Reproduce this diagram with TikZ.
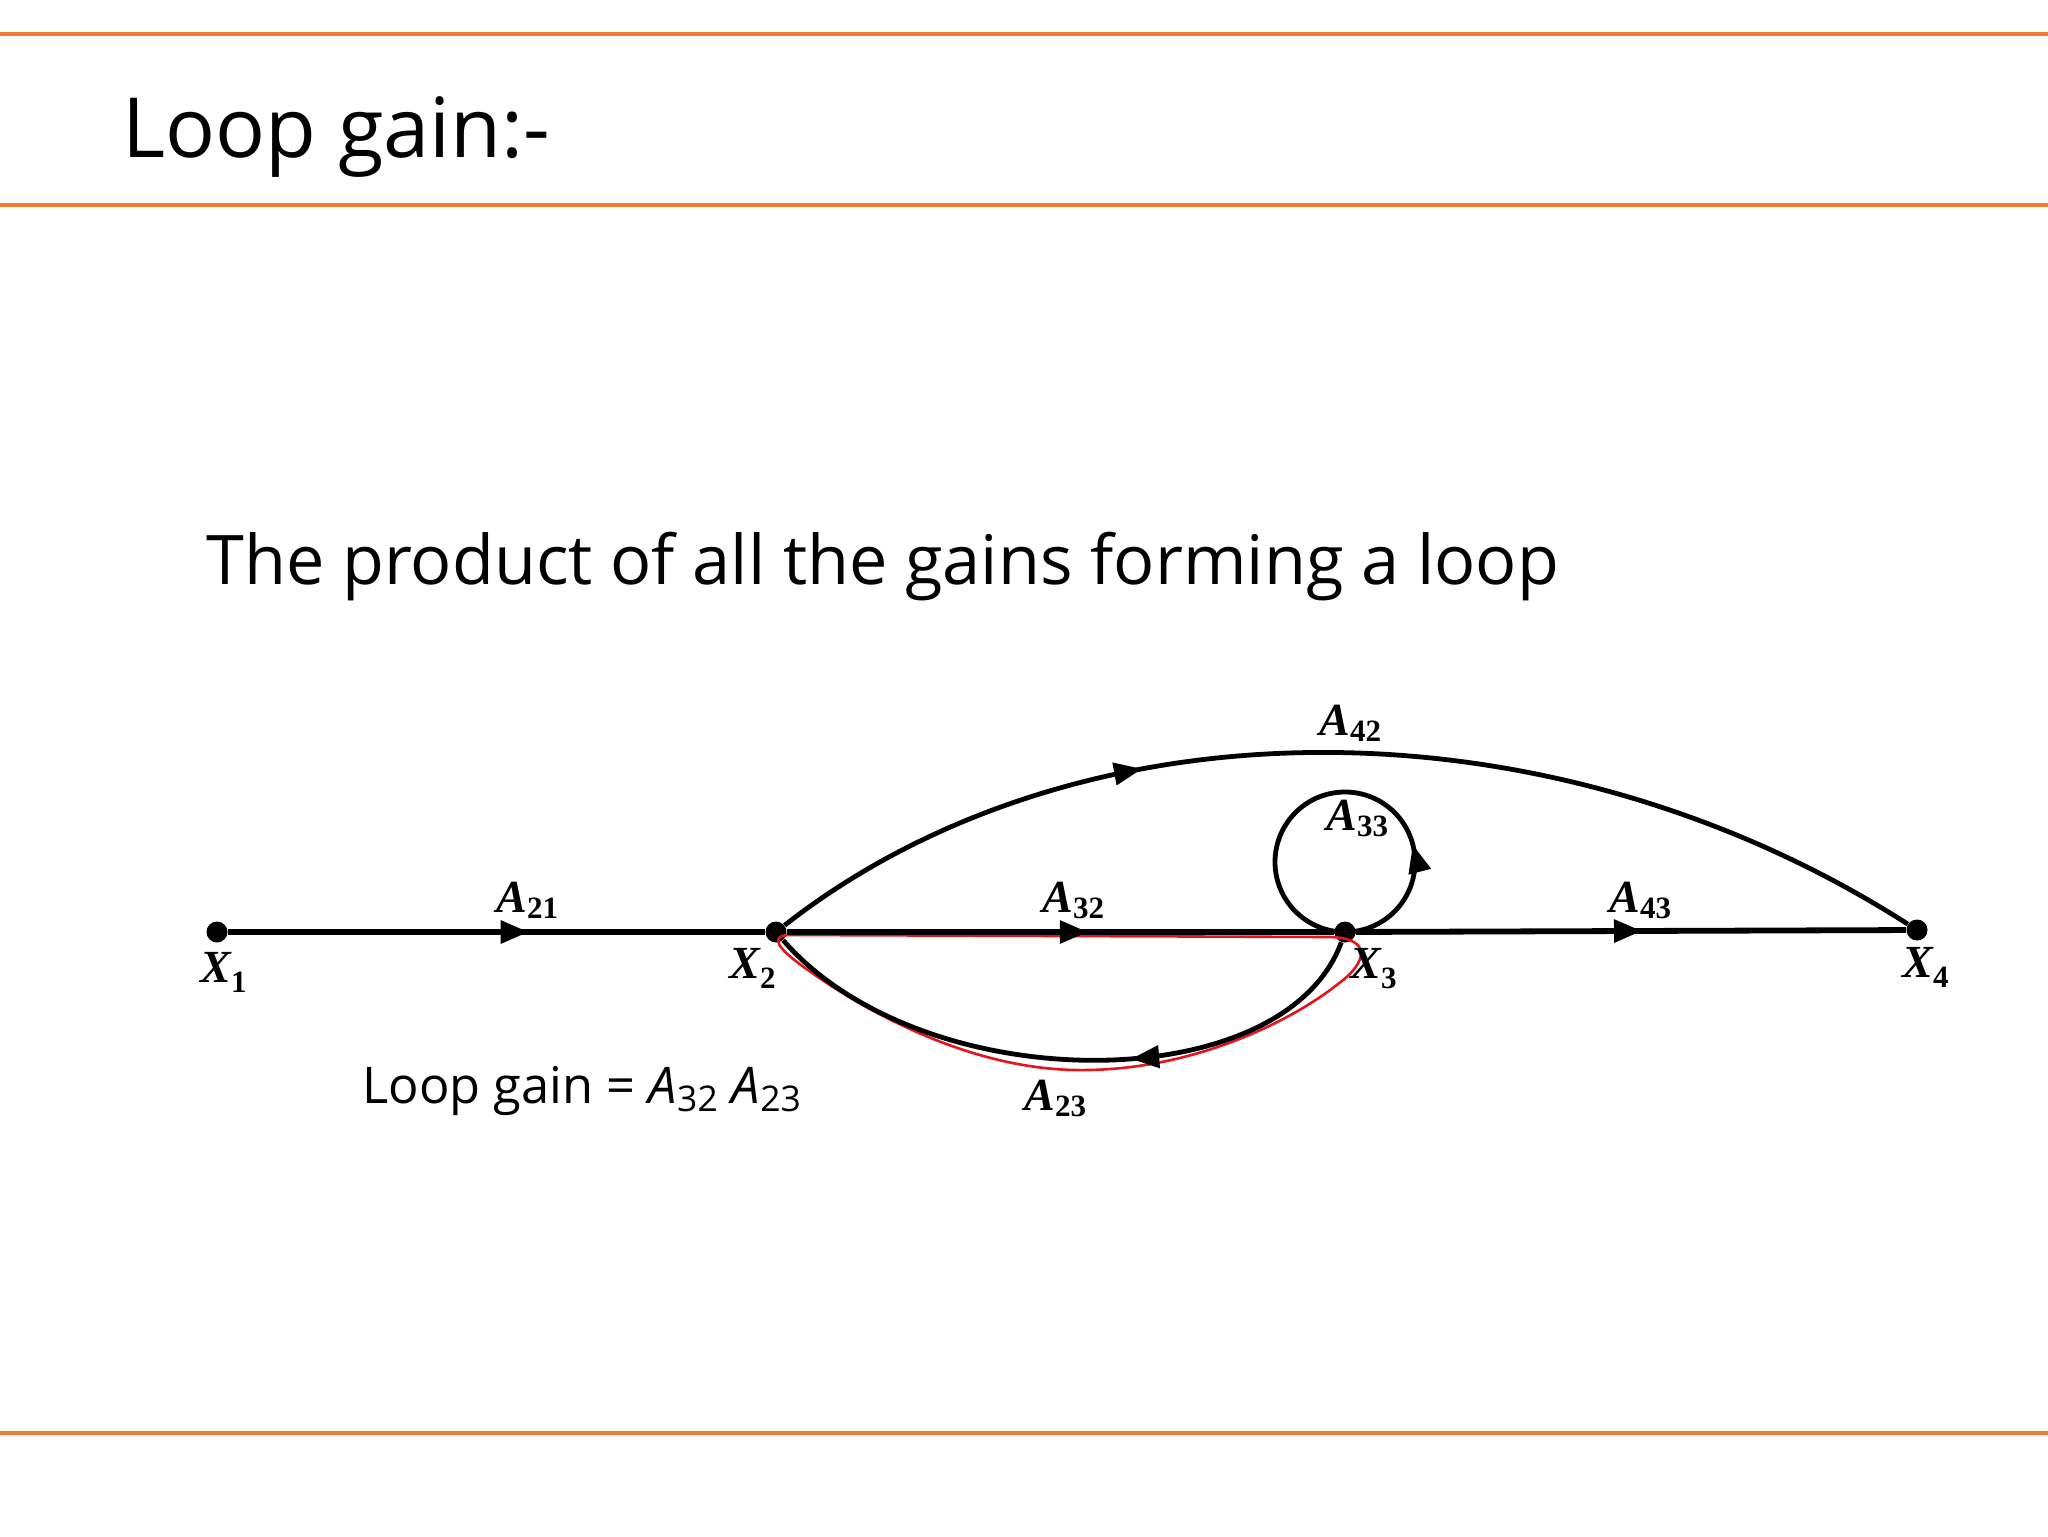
\documentclass[tikz,border=0pt]{standalone}
\usepackage{fontspec}
\setmainfont{Open Sans}
\newfontfamily\labfont{Liberation Serif}
\usetikzlibrary{arrows.meta,decorations.markings}
\definecolor{slideorange}{HTML}{ED7D31}
\definecolor{loopred}{HTML}{E3141B}
\newcommand{\glab}[3]{{\labfont\fontsize{23}{23}\selectfont\bfseries\itshape #1}\raisebox{#3}{\labfont\fontsize{15.5}{15.5}\selectfont\bfseries #2}}
\tikzset{
  rule/.style={draw=slideorange,line width=2pt},
  edge/.style={line width=2.9pt},
  curveedge/.style={line width=2.4pt},
  dot/.style={circle,fill=black,inner sep=0pt,minimum size=10.5pt},
  glabel/.style={anchor=base west,inner sep=0pt},
  midarrow/.style={postaction={decorate},decoration={markings,mark=at position #1 with {\arrow{Triangle[length=14pt,width=11pt]}}}},
  redloop/.style={draw=loopred,line width=1.3pt},
  txt/.style={anchor=base west,inner sep=0pt}
}
\begin{document}
\begin{tikzpicture}[x=0.5pt,y=-0.5pt]
\useasboundingbox (0,0) rectangle (2048,1536);
% slide rules
\draw[rule] (0,34) -- (2048,34);
\draw[rule] (0,205) -- (2048,205);
\draw[rule] (0,1433) -- (2048,1433);
% texts
\node[txt,font=\fontsize{41.5}{41.5}\selectfont] (title) at (122,157) {Loop gain:-};
\node[txt,font=\fontsize{34.2}{34.2}\selectfont] (sub) at (206,584) {The product of all the gains forming a loop};
\node[txt,font=\fontsize{25.3}{25.3}\selectfont] (lg) at (362,1103) {Loop gain = \textit{A}\textsubscript{32} \textit{A}\textsubscript{23}};
% nodes
\node[dot] (X1) at (217,932) {};
\node[dot] (X2) at (776,932) {};
\node[dot] (X3) at (1345,932) {};
\node[dot] (X4) at (1917,930) {};
% red loop
\draw[redloop] (790,935) -- (1330,937) .. controls (1372,938) and (1368,962) .. (1338,984)
  .. controls (1290,1022) and (1190,1072) .. (1075,1070)
  .. controls (960,1068) and (850,1002) .. (797,962)
  .. controls (772,943) and (774,935) .. (790,935) -- cycle;
% edges
\draw[edge,midarrow=0.56] (X1) -- (X2);
\draw[edge,midarrow=0.55] (X2) -- (X3);
\draw[edge,midarrow=0.52] (X3) -- (X4);
\draw[curveedge,midarrow=0.33] (X2) .. controls (1079,695) and (1550,695) .. (X4);
\draw[curveedge,midarrow=0.40] (X3) .. controls (1284,1100) and (922,1100) .. (X2);
\draw[curveedge,midarrow=0.29] (X3.center) arc[start angle=90,end angle=-270,radius=70];
% labels
\node[glabel] (lA21) at (496,912) {\glab{A}{21}{-3pt}};
\node[glabel] (lA32) at (1042,912) {\glab{A}{32}{-3pt}};
\node[glabel] (lA43) at (1609,912) {\glab{A}{43}{-3pt}};
\node[glabel] (lA42) at (1319,735) {\glab{A}{42}{-3pt}};
\node[glabel] (lA33) at (1326,830) {\glab{A}{33}{-3pt}};
\node[glabel] (lA23) at (1024,1110) {\glab{A}{23}{-3pt}};
\node[glabel] (lX1) at (200,982) {\glab{X}{1}{-5pt}};
\node[glabel] (lX2) at (729,978) {\glab{X}{2}{-5pt}};
\node[glabel] (lX3) at (1350,978) {\glab{X}{3}{-5pt}};
\node[glabel] (lX4) at (1902,977) {\glab{X}{4}{-5pt}};
\end{tikzpicture}
\end{document}
